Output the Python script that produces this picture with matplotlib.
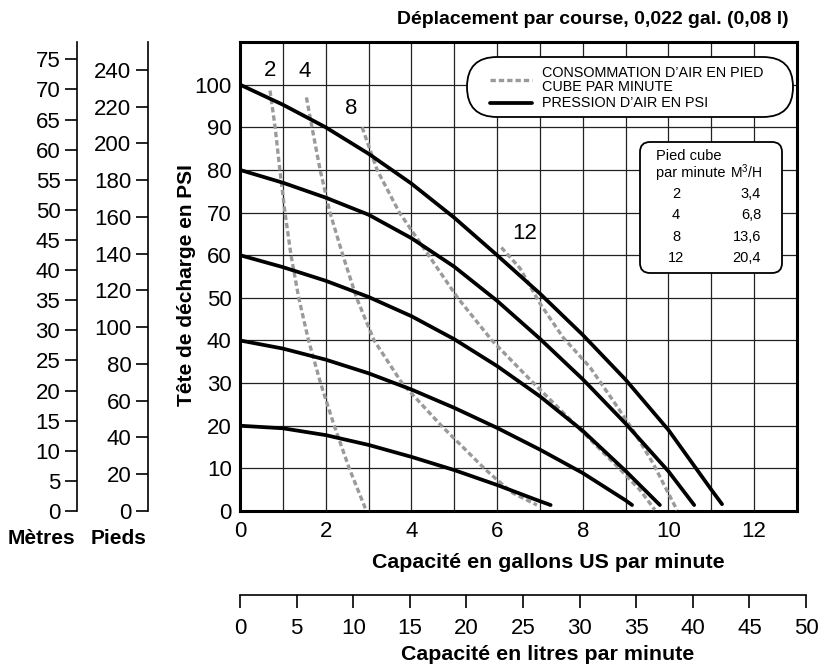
import matplotlib
matplotlib.use("Agg")
import matplotlib.pyplot as plt
from matplotlib.patches import FancyBboxPatch
from matplotlib.lines import Line2D

plt.rcParams['font.family'] = ['Liberation Sans', 'DejaVu Sans']
plt.rcParams['mathtext.fontset'] = 'custom'
plt.rcParams['mathtext.rm'] = 'Liberation Sans'

# pressure curves, x = gpm, y = psi
p100_x = [0, 1, 2, 3, 4, 5, 6, 7, 8, 9, 10, 11, 11.25]
p100_y = [100, 95.3, 90, 83.8, 76.8, 68.8, 60, 51, 41.3, 30.8, 19, 5.0, 1.6]
p80_x = [0, 1, 2, 3, 4, 5, 6, 7, 8, 9, 10, 10.6]
p80_y = [80, 77, 73.5, 69.5, 64, 57.3, 49.3, 40.4, 30.9, 20.5, 9.3, 1.4]
p60_x = [0, 1, 2, 3, 4, 5, 6, 7, 8, 9, 9.8]
p60_y = [60, 57.2, 54, 50.2, 45.7, 40.3, 34, 26.9, 18.8, 9.4, 1.4]
p40_x = [0, 1, 2, 3, 4, 5, 6, 7, 8, 9, 9.15]
p40_y = [40, 38.1, 35.5, 32.3, 28.5, 24.2, 19.5, 14.4, 8.9, 2.5, 1.4]
p20_x = [0, 1, 2, 3, 4, 5, 6, 7, 7.25]
p20_y = [20, 19.4, 17.8, 15.5, 12.7, 9.6, 6.1, 2.3, 1.4]

# air consumption curves (scfm)
a2_x = [0.7, 0.82, 0.93, 1.05, 1.19, 1.37, 1.6, 1.88, 2.2, 2.55, 2.93]
a2_y = [98.6, 90, 80, 70, 60, 50, 40, 30, 20, 10, 0.5]
a4_x = [1.55, 1.68, 1.87, 2.1, 2.4, 2.72, 3.13, 3.78, 4.7, 5.7, 6.0, 6.37, 6.93]
a4_y = [97, 90, 80, 70, 60, 50, 40, 30, 20, 10, 7.3, 4.2, 1.4]
a8_x = [2.85, 3.2, 3.72, 4.4, 5.08, 5.88, 6.85, 7.85, 8.85, 9.33, 9.68]
a8_y = [90, 80, 70, 60, 50, 40, 30, 20, 10, 5, 0.3]
a12_x = [6.1, 6.53, 7.0, 7.54, 8.17, 8.7, 9.17, 9.64, 9.96, 10.2]
a12_y = [61.8, 57, 48.7, 40.7, 33.7, 26, 19, 11.2, 4.9, 0.2]

scfm_labels = ['2', '4', '8', '12']
scfm_label_pos = [(0.7, 103.4), (1.5, 103.0), (2.6, 94.5), (6.65, 65)]

table_scfm = ['2', '4', '8', '12']
table_m3h = ['3,4', '6,8', '13,6', '20,4']

x_ticks = [0, 2, 4, 6, 8, 10, 12]
y_ticks = list(range(0, 101, 10))
m_ticks = list(range(0, 76, 5))
ft_ticks = list(range(0, 241, 20))
l_ticks = list(range(0, 51, 5))

M_PER_PSI = 0.708
FT_PER_PSI = 2.32
L_PER_GAL = 3.785

W, H = 823, 672
fig = plt.figure(figsize=(W / 100, H / 100), dpi=100)

ax_l, ax_r, ax_t, ax_b = 240, 797, 42, 511
ax = fig.add_axes([ax_l / W, 1 - ax_b / H, (ax_r - ax_l) / W, (ax_b - ax_t) / H])
ax.set_xlim(0, 13)
ax.set_ylim(0, 110)
ax.set_xticks(x_ticks)
ax.set_xticks(range(0, 14), minor=True)
ax.set_yticks(y_ticks)
ax.grid(True, which='both', color='#222222', lw=0.9, zorder=0)
ax.set_axisbelow(True)
ax.tick_params(which='both', length=0, labelsize=16)
ax.tick_params(axis='x', pad=7)
ax.tick_params(axis='y', pad=6)
for s in ax.spines.values():
    s.set_linewidth(2.2)

grey = '#9a9a9a'
for xs, ys in [(a2_x, a2_y), (a4_x, a4_y), (a8_x, a8_y), (a12_x, a12_y)]:
    ax.plot(xs, ys, color=grey, lw=2.4, dashes=(1.6, 0.9), zorder=3)
for xs, ys in [(p20_x, p20_y), (p40_x, p40_y), (p60_x, p60_y), (p80_x, p80_y), (p100_x, p100_y)]:
    ax.plot(xs, ys, color='black', lw=2.7, solid_capstyle='round', solid_joinstyle='round', zorder=4)

for lab, (lx, ly) in zip(scfm_labels, scfm_label_pos):
    ax.text(lx, ly, lab, fontsize=16, ha='center', va='center', zorder=5)

# metres axis
axm = fig.add_axes([77 / W, 1 - ax_b / H, 0.0001, (ax_b - ax_t) / H])
axm.set_ylim(0, 110 * M_PER_PSI)
axm.set_yticks(m_ticks)
# feet axis
axf = fig.add_axes([148 / W, 1 - ax_b / H, 0.0001, (ax_b - ax_t) / H])
axf.set_ylim(0, 110 * FT_PER_PSI)
axf.set_yticks(ft_ticks)
for a in (axm, axf):
    a.set_xticks([])
    for k in ('top', 'right', 'bottom'):
        a.spines[k].set_visible(False)
    a.spines['left'].set_linewidth(1.2)
    a.tick_params(axis='y', length=9, width=1.2, labelsize=16, pad=3)
    a.patch.set_visible(False)

# litres axis
l_w = (50 / L_PER_GAL) * (ax_r - ax_l) / 13
axl = fig.add_axes([ax_l / W, 1 - 595 / H, l_w / W, 0.0001])
axl.set_xlim(0, 50)
axl.set_xticks(l_ticks)
axl.set_yticks([])
for k in ('top', 'right', 'left'):
    axl.spines[k].set_visible(False)
axl.spines['bottom'].set_linewidth(1.2)
axl.tick_params(axis='x', length=9.5, width=1.2, labelsize=16, pad=7)
axl.patch.set_visible(False)

# labels
fig.text(789 / W, 1 - 19 / H, 'Déplacement par course, 0,022 gal. (0,08 l)',
         ha='right', va='center', fontsize=14, fontweight='bold')
fig.text(548 / W, 1 - 563 / H, 'Capacité en gallons US par minute',
         ha='center', va='center', fontsize=15.4, fontweight='bold')
fig.text(548 / W, 1 - 655 / H, 'Capacité en litres par minute',
         ha='center', va='center', fontsize=15.4, fontweight='bold')
fig.text(186 / W, 1 - 285 / H, 'Tête de décharge en PSI', rotation=90,
         ha='center', va='center', fontsize=15, fontweight='bold')
fig.text(41 / W, 1 - 539 / H, 'Mètres', ha='center', va='center', fontsize=15, fontweight='bold')
fig.text(119 / W, 1 - 539 / H, 'Pieds', ha='center', va='center', fontsize=15, fontweight='bold')


def P(px, py):
    return px / 100, (H - py) / 100


T = fig.dpi_scale_trans

# legend pill
x0, y0 = P(467, 117)
fig.add_artist(FancyBboxPatch((x0, y0), 3.26, 0.60, boxstyle='round,pad=0,rounding_size=0.3',
                              transform=T, fc='white', ec='black', lw=1.3, zorder=6))
lx0, ly0 = P(490, 80)
fig.add_artist(Line2D([lx0, lx0 + 0.42], [ly0, ly0], transform=T, color=grey, lw=2.4,
                      dashes=(1.6, 0.9), zorder=7))
lx1, ly1 = P(490, 103)
fig.add_artist(Line2D([lx1, lx1 + 0.42], [ly1, ly1], transform=T, color='black', lw=2.7,
                      solid_capstyle='round', zorder=7))
leg_lines = [('CONSOMMATION D’AIR EN PIED', 73), ('CUBE PAR MINUTE', 87), ('PRESSION D’AIR EN PSI', 103)]
for txt, ty in leg_lines:
    fig.text(*P(542, ty), txt, transform=T, ha='left', va='center', fontsize=10.4, zorder=8)

# conversion table
tx0, ty0 = P(640, 273)
fig.add_artist(FancyBboxPatch((tx0, ty0), 1.42, 1.31, boxstyle='round,pad=0,rounding_size=0.1',
                              transform=T, fc='white', ec='black', lw=1.3, zorder=6))
fig.text(*P(656, 156), 'Pied cube', transform=T, ha='left', va='center', fontsize=10.5, zorder=8)
fig.text(*P(656, 173), 'par minute', transform=T, ha='left', va='center', fontsize=10.5, zorder=8)
fig.text(*P(762, 172), r'M$^3$/H', transform=T, ha='right', va='center', fontsize=10, zorder=8)
for i, (c1, c2) in enumerate(zip(table_scfm, table_m3h)):
    ry = 194 + i * 21.3
    fig.text(*P(676, ry), c1, transform=T, ha='center', va='center', fontsize=10.5, zorder=8)
    fig.text(*P(761, ry), c2, transform=T, ha='right', va='center', fontsize=10.5, zorder=8)

fig.savefig('out.png', dpi=100)
